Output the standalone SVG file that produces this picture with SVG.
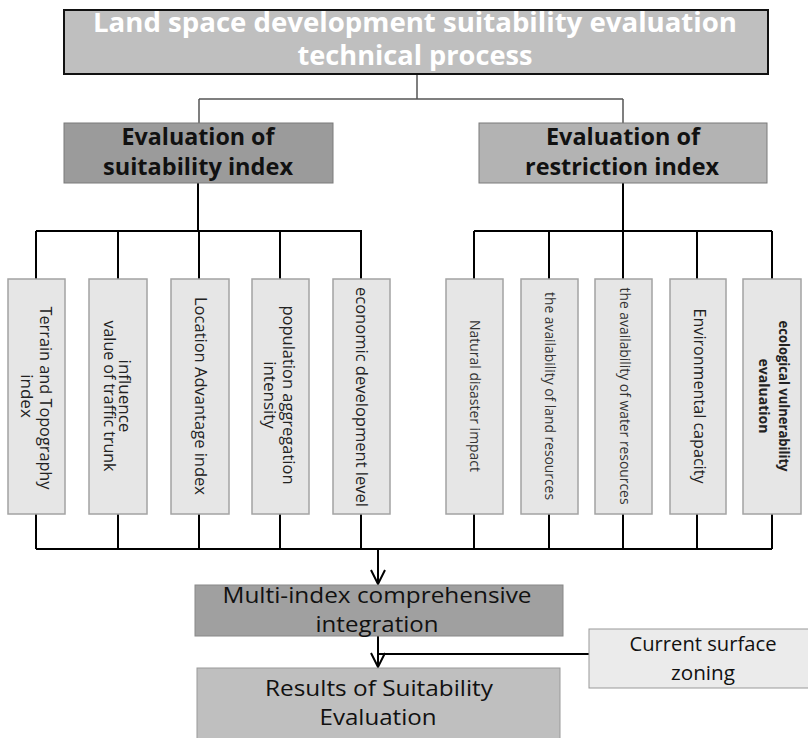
<svg xmlns="http://www.w3.org/2000/svg" width="808" height="738" viewBox="0 0 808 738">
<style>
text{font-family:"Open Sans","Noto Sans","Liberation Sans",sans-serif;text-anchor:middle}
.title{font-size:26px;font-weight:bold;fill:#ffffff}
.eval{font-size:23px;font-weight:bold;fill:#111}
.big{font-size:21px;fill:#111}
.cur{font-size:20px;fill:#111}
.vt{font-size:17px;fill:#222}
.vs{font-size:14px;fill:#333}
.vb{font-size:14px;font-weight:bold;fill:#222}
.vbox{fill:#e6e6e6;stroke:#a3a3a3;stroke-width:1.5}
.conn{fill:none;stroke:#000;stroke-width:2}
.thin{fill:none;stroke:#555;stroke-width:1.5}
</style>
<defs>
<marker id="arr" viewBox="0 0 16 16" refX="15" refY="8" markerWidth="16" markerHeight="16" markerUnits="userSpaceOnUse" orient="auto">
<path d="M1,1 L15,8 L1,15" fill="none" stroke="#000" stroke-width="2"/>
</marker>
</defs>
<rect width="808" height="738" fill="#fff"/>
<g id="connectors">
<path class="thin" d="M417,74 V99 M199,99 H623 M199,99 V123 M623,99 V123"/>
<path class="conn" d="M198,183 V231 M36,231 H362 M36,231 V279 M118,231 V279 M199,231 V279 M280,231 V279 M361,231 V279"/>
<path class="conn" d="M623,183 V231 M474,231 H772 M474,231 V279 M549,231 V279 M623,231 V279 M697,231 V279 M772,231 V279"/>
<path class="conn" d="M36,514 V549 M118,514 V549 M199,514 V549 M280,514 V549 M361,514 V549 M474,514 V549 M549,514 V549 M623,514 V549 M697,514 V549 M772,514 V549 M36,549 H772"/>
<path class="conn" d="M378,549 V584" marker-end="url(#arr)"/>
<path class="conn" d="M378,636 V667" marker-end="url(#arr)"/>
<path class="conn" d="M589,654 H379"/>
</g>
<g id="title">
<rect x="64" y="10" width="704" height="64" fill="#bfbfbf" stroke="#111" stroke-width="2"/>
<text class="title" x="415" y="32" textLength="644" lengthAdjust="spacingAndGlyphs">Land space development suitability evaluation</text>
<text class="title" x="415" y="65" textLength="235" lengthAdjust="spacingAndGlyphs">technical process</text>
</g>
<g id="suitability">
<rect x="64" y="123" width="269" height="60" fill="#9b9b9b" stroke="#7a7a7a" stroke-width="1"/>
<text class="eval" x="198" y="145" textLength="153" lengthAdjust="spacingAndGlyphs">Evaluation of</text>
<text class="eval" x="198" y="175" textLength="190" lengthAdjust="spacingAndGlyphs">suitability index</text>
</g>
<g id="restriction">
<rect x="479" y="123" width="288" height="60" fill="#b3b3b3" stroke="#7a7a7a" stroke-width="1"/>
<text class="eval" x="623" y="145" textLength="154" lengthAdjust="spacingAndGlyphs">Evaluation of</text>
<text class="eval" x="622" y="175" textLength="194" lengthAdjust="spacingAndGlyphs">restriction index</text>
</g>
<g id="terrain">
<rect class="vbox" x="8" y="279" width="57" height="235"/>
<text class="vt" transform="translate(40,398) rotate(90)" textLength="183" lengthAdjust="spacingAndGlyphs">Terrain and Topography</text>
<text class="vt" transform="translate(21,396) rotate(90)">index</text>
</g>
<g id="traffic">
<rect class="vbox" x="89" y="279" width="58" height="235"/>
<text class="vt" transform="translate(119,396) rotate(90)">influence</text>
<text class="vt" transform="translate(104,396) rotate(90)" textLength="151" lengthAdjust="spacingAndGlyphs">value of traffic trunk</text>
</g>
<g id="location">
<rect class="vbox" x="171" y="279" width="58" height="235"/>
<text class="vt" transform="translate(195,396) rotate(90)" textLength="198" lengthAdjust="spacingAndGlyphs">Location Advantage index</text>
</g>
<g id="population">
<rect class="vbox" x="252" y="279" width="57" height="235"/>
<text class="vt" transform="translate(283,395) rotate(90)" textLength="179" lengthAdjust="spacingAndGlyphs">population aggregation</text>
<text class="vt" transform="translate(264,395) rotate(90)">intensity</text>
</g>
<g id="economic">
<rect class="vbox" x="333" y="279" width="57" height="235"/>
<text class="vt" transform="translate(356,397) rotate(90)" textLength="220" lengthAdjust="spacingAndGlyphs">economic development level</text>
</g>
<g id="disaster">
<rect class="vbox" x="446" y="279" width="57" height="235"/>
<text class="vs" transform="translate(470,396) rotate(90)" textLength="152" lengthAdjust="spacingAndGlyphs">Natural disaster impact</text>
</g>
<g id="land">
<rect class="vbox" x="521" y="279" width="57" height="235"/>
<text class="vs" transform="translate(545,396) rotate(90)" textLength="208" lengthAdjust="spacingAndGlyphs">the availability of land resources</text>
</g>
<g id="water">
<rect class="vbox" x="595" y="279" width="57" height="235"/>
<text class="vs" transform="translate(620,396) rotate(90)" textLength="217" lengthAdjust="spacingAndGlyphs">the availability of water resources</text>
</g>
<g id="environment">
<rect class="vbox" x="670" y="279" width="56" height="235"/>
<text class="vt" transform="translate(694,396) rotate(90)" textLength="175" lengthAdjust="spacingAndGlyphs">Environmental capacity</text>
</g>
<g id="ecological">
<rect class="vbox" x="743" y="279" width="58" height="235"/>
<text class="vb" transform="translate(779,396) rotate(90)" textLength="151" lengthAdjust="spacingAndGlyphs">ecological vulnerability</text>
<text class="vb" transform="translate(759,396) rotate(90)">evaluation</text>
</g>
<g id="integration">
<rect x="195" y="585" width="368" height="51" fill="#a0a0a0" stroke="#888" stroke-width="1"/>
<text class="big" x="377" y="603" textLength="309" lengthAdjust="spacingAndGlyphs">Multi-index comprehensive</text>
<text class="big" x="377" y="632" textLength="123" lengthAdjust="spacingAndGlyphs">integration</text>
</g>
<g id="current">
<rect x="589" y="629" width="222" height="59" fill="#ebebeb" stroke="#999" stroke-width="1"/>
<text class="cur" x="703" y="651" textLength="147" lengthAdjust="spacingAndGlyphs">Current surface</text>
<text class="cur" x="703" y="680" textLength="64" lengthAdjust="spacingAndGlyphs">zoning</text>
</g>
<g id="results">
<rect x="197" y="668" width="363" height="80" fill="#bfbfbf" stroke="#999" stroke-width="1"/>
<text class="big" x="379" y="696" textLength="228" lengthAdjust="spacingAndGlyphs">Results of Suitability</text>
<text class="big" x="378" y="725" textLength="117" lengthAdjust="spacingAndGlyphs">Evaluation</text>
</g>
</svg>
